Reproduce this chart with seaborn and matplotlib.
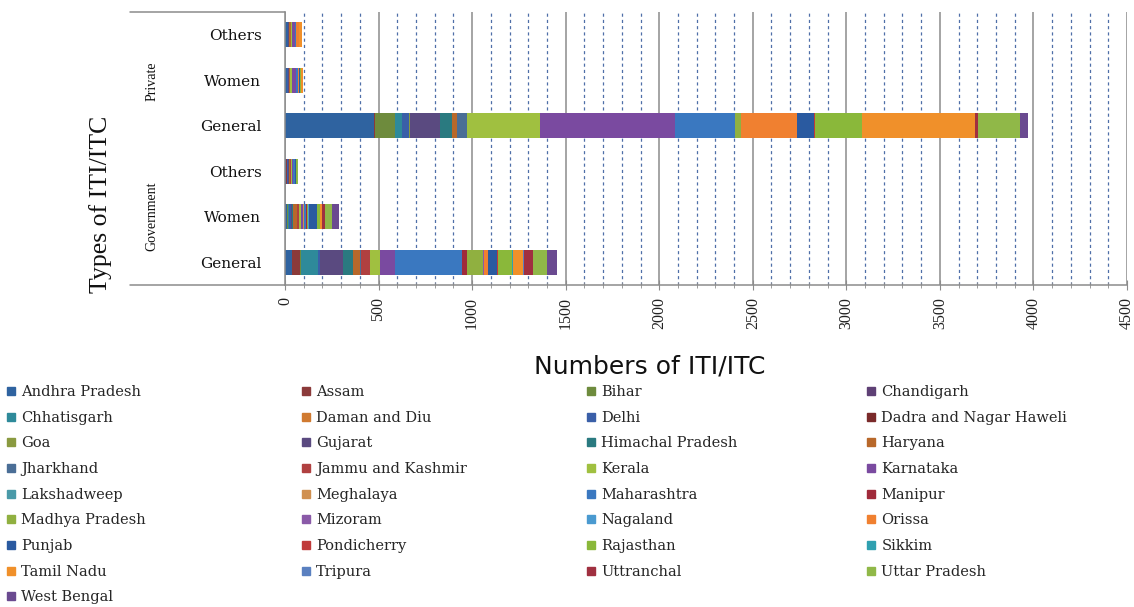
import numpy as np
import pandas as pd
import matplotlib
matplotlib.use("Agg")
import matplotlib.pyplot as plt
from matplotlib.lines import Line2D
from matplotlib.patches import Rectangle
from matplotlib.ticker import MultipleLocator
import seaborn as sns

# ---- data -------------------------------------------------------------
states = [
    "Andhra Pradesh", "Assam", "Bihar", "Chandigarh",
    "Chhatisgarh", "Daman and Diu", "Delhi", "Dadra and Nagar Haweli",
    "Goa", "Gujarat", "Himachal Pradesh", "Haryana",
    "Jharkhand", "Jammu and Kashmir", "Kerala", "Karnataka",
    "Lakshadweep", "Meghalaya", "Maharashtra", "Manipur",
    "Madhya Pradesh", "Mizoram", "Nagaland", "Orissa",
    "Punjab", "Pondicherry", "Rajasthan", "Sikkim",
    "Tamil Nadu", "Tripura", "Uttranchal", "Uttar Pradesh",
    "West Bengal",
]

state_colors = [
    "#2f63a0", "#8b3a3a", "#6e8b3d", "#5e4075",
    "#2e8a9a", "#d07a30", "#3a5fa8", "#7a2a2a",
    "#8a9a40", "#5a4a80", "#2a7a80", "#b8682a",
    "#4a6e96", "#b04040", "#a0c040", "#7a4aa0",
    "#4a9aa8", "#d09050", "#3a78c0", "#a02a3a",
    "#90b040", "#8a5aa8", "#4a9ad0", "#f08030",
    "#2a5aa0", "#c03a3a", "#8ab83a", "#30a0b0",
    "#f0902a", "#5a80c0", "#a03040", "#90b848",
    "#6a4a90",
]

# category keys (top to bottom) and their displayed labels
category_keys = ["pvt_others", "pvt_women", "pvt_general",
                 "gov_others", "gov_women", "gov_general"]
category_labels = ["Others", "Women", "General", "Others", "Women", "General"]
group_labels = ["Private", "Government"]

# number of institutes per state, in the order of `states`
gov_general = [37, 43, 6, 1, 89, 2, 7, 1, 1, 123, 54, 37, 4, 50, 53, 80,
               0, 2, 357, 26, 86, 3, 4, 20, 48, 4, 76, 2, 57, 4, 49, 75, 54]
gov_women = [10, 3, 2, 1, 6, 0, 8, 0, 1, 5, 6, 20, 2, 10, 10, 14,
             0, 1, 15, 2, 8, 1, 1, 3, 40, 4, 14, 0, 10, 2, 15, 36, 36]
gov_others = [8, 2, 0, 0, 3, 0, 5, 0, 0, 6, 0, 4, 0, 2, 5, 6,
              0, 0, 10, 0, 4, 0, 0, 0, 5, 0, 3, 0, 3, 0, 0, 4, 0]
pvt_general = [476, 5, 107, 0, 35, 0, 40, 0, 6, 160, 64, 27, 53, 0, 391, 722,
               0, 0, 320, 0, 33, 0, 0, 299, 91, 5, 252, 0, 604, 0, 15, 225, 43]
pvt_women = [10, 0, 0, 0, 0, 0, 5, 0, 0, 5, 0, 5, 0, 0, 15, 20,
             0, 0, 10, 0, 0, 0, 0, 5, 5, 0, 5, 0, 10, 0, 0, 0, 0]
pvt_others = [15, 0, 0, 0, 0, 0, 0, 0, 0, 5, 0, 10, 0, 0, 10, 15,
              0, 0, 5, 0, 0, 0, 0, 15, 0, 0, 0, 0, 15, 0, 0, 0, 0]

table = pd.DataFrame(
    [pvt_others, pvt_women, pvt_general, gov_others, gov_women, gov_general],
    index=category_keys, columns=states,
)
cumulative = table.cumsum(axis=1)

# ---- figure -----------------------------------------------------------
W, H = 1134, 607
sns.set_theme(style="white")
plt.rcParams["font.family"] = ["DejaVu Serif", "Liberation Serif"]

fig = plt.figure(figsize=(W / 100, H / 100), dpi=100)
fig.patch.set_facecolor("white")
x0, x1, y0, y1 = 285, 1127, 12, 285
ax = fig.add_axes([x0 / W, 1 - y1 / H, (x1 - x0) / W, (y1 - y0) / H])

# stacked bars: draw running totals from the last state backwards
for i in range(len(states) - 1, -1, -1):
    sub = pd.DataFrame({"category": category_keys,
                        "total": cumulative.iloc[:, i].values})
    sns.barplot(data=sub, x="total", y="category", order=category_keys,
                orient="h", color=state_colors[i], saturation=1,
                width=0.56, errorbar=None, linewidth=0, ax=ax)

ax.set_xlim(0, 4500)
ax.set_ylim(5.5, -0.5)
ax.set_xlabel("")
ax.set_ylabel("")

# grid: solid major lines every 500, dashed minor lines every 100
ax.xaxis.set_major_locator(MultipleLocator(500))
ax.xaxis.set_minor_locator(MultipleLocator(100))
ax.set_axisbelow(True)
ax.grid(False)
ax.xaxis.grid(True, which="major", color="#8c8c8c", linewidth=1.1,
              linestyle="-")
ax.xaxis.grid(True, which="minor", color="#4f6fa8", linewidth=0.9,
              linestyle=(0, (2.5, 2.5)))

ax.set_xticks(np.arange(0, 4501, 500))
ax.set_xticklabels([str(v) for v in range(0, 4501, 500)], rotation=90,
                   fontsize=11.5, color="#222222", family="Liberation Serif")
ax.tick_params(axis="x", which="major", direction="inout", length=7,
               width=0.8, color="#8c8c8c", pad=5, bottom=True)
ax.tick_params(axis="x", which="minor", direction="inout", length=4,
               width=0.6, color="#8c8c8c", bottom=True)

ax.set_yticks(range(len(category_keys)))
ax.set_yticklabels(category_labels, fontsize=11, color="#111111")
ax.tick_params(axis="y", length=0, pad=17)

for side in ("top", "right"):
    ax.spines[side].set_visible(False)
for side in ("left", "bottom"):
    ax.spines[side].set_color("#8c8c8c")
    ax.spines[side].set_linewidth(1.1)

# outline of the category label area
for yy in (y0, y1):
    fig.add_artist(Line2D([130 / W, x0 / W], [1 - yy / H, 1 - yy / H],
                          color="#8c8c8c", linewidth=1.1))

# group labels
fig.text(152 / W, 1 - 81 / H, group_labels[0], rotation=90, ha="center",
         va="center", fontsize=10, color="#111111", family="Liberation Serif")
fig.text(152 / W, 1 - 216 / H, group_labels[1], rotation=90, ha="center",
         va="center", fontsize=10, color="#111111", family="Liberation Serif")

# axis titles
fig.text(101 / W, 1 - 204 / H, "Types of ITI/ITC", rotation=90,
         ha="center", va="center", fontsize=18.5, color="#111111",
         family="Liberation Serif")
fig.text(650 / W, 1 - 366 / H, "Numbers of ITI/ITC", ha="center",
         va="center", fontsize=18, color="#111111", family="DejaVu Sans")

# legend panel
fig.add_artist(Rectangle((0, 0), 1, 1 - 380 / H, transform=fig.transFigure,
                         facecolor="white", edgecolor="none", zorder=4))
handles = [Line2D([], [], marker="s", linestyle="", markersize=6,
                  color=c, label=s) for s, c in zip(states, state_colors)]
col_x = [6, 301, 586, 866]
for j, cx in enumerate(col_x):
    leg = fig.legend(handles=handles[j::4], loc="upper left",
                     bbox_to_anchor=(cx / W, 1 - 385 / H), frameon=False,
                     fontsize=10.5, labelspacing=0.8, handlelength=0.7,
                     handletextpad=0.35, borderpad=0, borderaxespad=0)
    leg.set_zorder(5)

fig.savefig("out.png", dpi=100, facecolor="white")
